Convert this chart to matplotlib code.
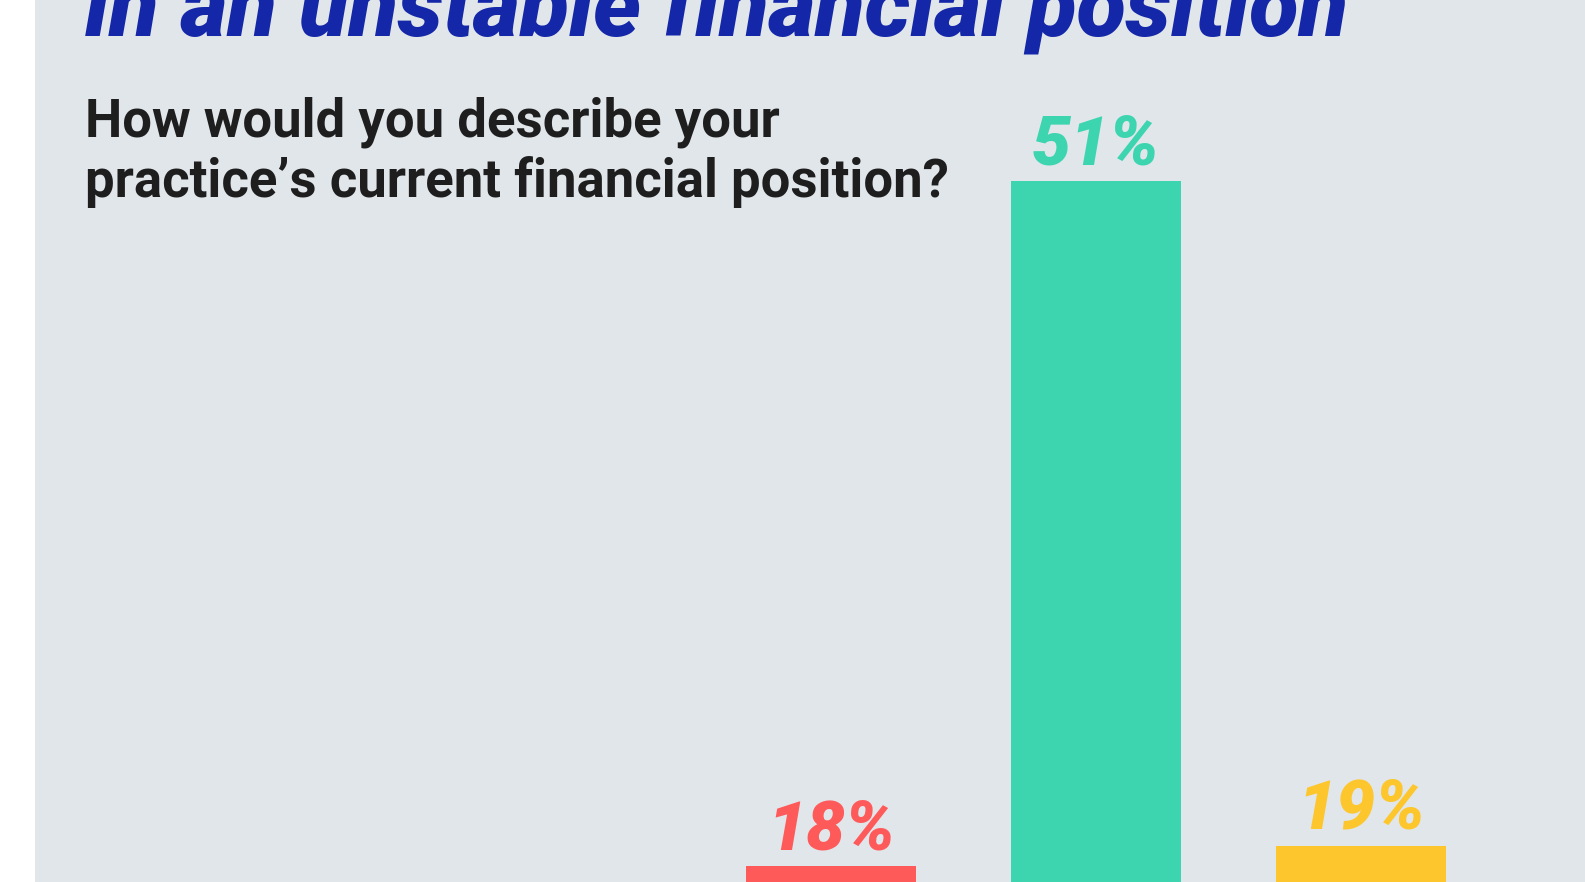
import matplotlib
matplotlib.use("Agg")
import matplotlib.pyplot as plt
from matplotlib.patches import Rectangle

# ---- data ----
values = [18, 51, 19]
value_labels = ["18%", "51%", "19%"]
bar_colors = ["#ff5a5a", "#3dd5af", "#fdc62c"]
title_line = "in an unstable financial position"
subtitle_lines = ["How would you describe your", "practice\u2019s current financial position?"]

W, H, DPI = 1585, 882, 100
fig = plt.figure(figsize=(W / DPI, H / DPI), dpi=DPI, facecolor="white")

# gray panel
fig.patches.append(Rectangle((35 / W, 0), 1 - 35 / W, 1, transform=fig.transFigure,
                             facecolor="#e1e6eb", edgecolor="none", zorder=-5))

ax = fig.add_axes([0, 0, 1, 1])
ax.set_zorder(2)
ax.set_facecolor("none")
ax.axis("off")

# mapping: bar centre pixel 831, spacing 265; baseline pixel (from top) 1240, 20.76 px per %
x0, dx = 831.0, 265.0
base, k = 1240.0, 20.76
ax.set_xlim(-x0 / dx, (W - x0) / dx)
ax.set_ylim((base - H) / k, base / k)

xs = list(range(len(values)))
bars = ax.bar(xs, values, width=170 / dx, color=bar_colors, zorder=2)

LABEL_FONT = ["Roboto", "DejaVu Sans"]
for x, v, lab, c in zip(xs, values, value_labels, bar_colors):
    ax.annotate(lab, (x, v), xytext=(0, 17 * 72 / DPI), textcoords="offset points",
                ha="center", va="baseline", fontsize=50, fontweight="heavy",
                fontstyle="italic", color=c, family=LABEL_FONT)

fig.canvas.draw()
renderer = fig.canvas.get_renderer()


def fit(t, target_w):
    bb = t.get_window_extent(renderer=renderer)
    t.set_fontsize(t.get_fontsize() * target_w / bb.width)


def px(xp, yp):
    return xp / W, 1 - yp / H


t = fig.text(*px(85, 35), title_line, ha="left", va="baseline", fontsize=60,
             fontweight="heavy", fontstyle="italic", color="#1327a8",
             family=["Roboto", "DejaVu Sans"], zorder=3)
fit(t, 1349 - 85)

s1 = fig.text(*px(85, 137), subtitle_lines[0], ha="left", va="baseline", fontsize=37,
              fontweight="bold", color="#1e1e1e", family=["Roboto", "DejaVu Sans"], zorder=3)
fit(s1, 778 - 85)
s2 = fig.text(*px(85, 197), subtitle_lines[1], ha="left", va="baseline", fontsize=s1.get_fontsize(),
              fontweight="bold", color="#1e1e1e", family=["Roboto", "DejaVu Sans"], zorder=3)

fig.savefig("out.png", dpi=DPI, facecolor="white")
